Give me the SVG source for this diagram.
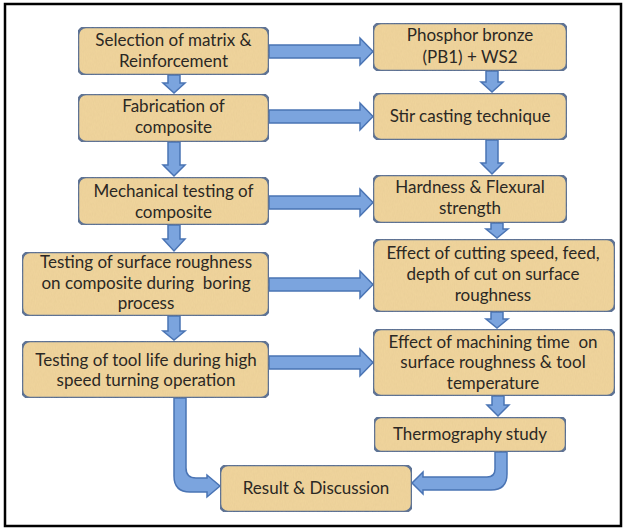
<svg xmlns="http://www.w3.org/2000/svg" width="627" height="530" viewBox="0 0 627 530">
<style>
.box{fill:#f1d59d;stroke:#4d6c96;stroke-width:2.5}
.arr{fill:#7ba4de;stroke:#4a74b4;stroke-width:1.5;stroke-linejoin:miter}
text{font-family:Lato,"Open Sans","Liberation Sans",sans-serif;font-size:17px;fill:#2b2824;text-anchor:middle;white-space:pre}
</style>
<defs>
<filter id="tex" x="0" y="0" width="1" height="1">
<feTurbulence type="fractalNoise" baseFrequency="0.9 0.3" numOctaves="2" seed="3" result="n"/>
<feColorMatrix in="n" type="matrix" values="0 0 0 0 0.55  0 0 0 0 0.42  0 0 0 0 0.2  0 0 0 0.18 0" result="c"/>
<feComposite in="c" in2="SourceGraphic" operator="in" result="t"/>
<feMerge><feMergeNode in="SourceGraphic"/><feMergeNode in="t"/></feMerge>
</filter>
</defs>
<rect x="0" y="0" width="627" height="530" fill="#fff"/>
<rect x="5" y="4" width="616" height="522" fill="none" stroke="#000" stroke-width="2.5"/>

<g id="connectors">
<path class="arr" d="M269 45H360V38L373 51.5L360 65V58H269Z"/>
<path class="arr" d="M269 110H360V103L373 116.5L360 130V123H269Z"/>
<path class="arr" d="M269 196H360V189L373 202.5L360 216V209H269Z"/>
<path class="arr" d="M269 278H360V271L373 284.5L360 298V291H269Z"/>
<path class="arr" d="M269 356H360V349L373 362.5L360 376V369H269Z"/>

<path class="arr" d="M168 75H180V83H185L174 93L163 83H168Z"/>
<path class="arr" d="M168 142H180V165H185L174 176L163 165H168Z"/>
<path class="arr" d="M168 225H180V239H185L174 251L163 239H168Z"/>
<path class="arr" d="M168 316H180V331H185L174 340L163 331H168Z"/>

<path class="arr" d="M486 71H498V82H503L492 92L481 82H486Z"/>
<path class="arr" d="M486 140H498V163H503L492 174L481 163H486Z"/>
<path class="arr" d="M491 223H503V229H508L497 238L486 229H491Z"/>
<path class="arr" d="M491 312H503V319H508L497 328L486 319H491Z"/>
<path class="arr" d="M492 396H504V405H509L498 416L487 405H492Z"/>

<path class="arr" d="M174 398H186V468Q186 478 196 478H207V475L220 486L207 497V492H190Q174 492 174 476Z"/>
<path class="arr" d="M495 452H507V474Q507 490 491 490H423V494L412 483L423 472V477H487Q495 477 495 469Z"/>
</g>

<g id="n1"><rect class="box" x="78" y="27" width="191" height="48" rx="8" filter="url(#tex)"/>
<text x="173.5" y="46">Selection of matrix &amp;</text><text x="173.5" y="67">Reinforcement</text></g>
<g id="n2"><rect class="box" x="78" y="94" width="191" height="48" rx="8" filter="url(#tex)"/>
<text x="173.5" y="112">Fabrication of</text><text x="173.5" y="133">composite</text></g>
<g id="n3"><rect class="box" x="78" y="177" width="191" height="48" rx="8" filter="url(#tex)"/>
<text x="173.5" y="197">Mechanical testing of</text><text x="173.5" y="218">composite</text></g>
<g id="n4"><rect class="box" x="22" y="252" width="247" height="64" rx="8" filter="url(#tex)"/>
<text x="146" y="268">Testing of surface roughness</text><text x="146" y="289">on composite during  boring</text><text x="146" y="309">process</text></g>
<g id="n5"><rect class="box" x="22" y="341" width="247" height="57" rx="8" filter="url(#tex)"/>
<text x="146" y="366">Testing of tool life during high</text><text x="146" y="386">speed turning operation</text></g>

<g id="n6"><rect class="box" x="373" y="23" width="194" height="48" rx="8" filter="url(#tex)"/>
<text x="470" y="41">Phosphor bronze</text><text x="470" y="63">(PB1) + WS2</text></g>
<g id="n7"><rect class="box" x="373" y="93" width="194" height="47" rx="8" filter="url(#tex)"/>
<text x="470" y="122">Stir casting technique</text></g>
<g id="n8"><rect class="box" x="373" y="175" width="194" height="48" rx="8" filter="url(#tex)"/>
<text x="470" y="193">Hardness &amp; Flexural</text><text x="470" y="214">strength</text></g>
<g id="n9"><rect class="box" x="373" y="239" width="242" height="73" rx="8" filter="url(#tex)"/>
<text x="493" y="259">Effect of cutting speed, feed,</text><text x="493" y="280">depth of cut on surface</text><text x="493" y="301">roughness</text></g>
<g id="n10"><rect class="box" x="373" y="329" width="242" height="67" rx="8" filter="url(#tex)"/>
<text x="493" y="348">Effect of machining time  on</text><text x="493" y="368">surface roughness &amp; tool</text><text x="493" y="389">temperature</text></g>
<g id="n11"><rect class="box" x="374" y="417" width="192" height="35" rx="7" filter="url(#tex)"/>
<text x="470" y="440">Thermography study</text></g>
<g id="n12"><rect class="box" x="220" y="465" width="192" height="47" rx="8" filter="url(#tex)"/>
<text x="316" y="494">Result &amp; Discussion</text></g>
</svg>
